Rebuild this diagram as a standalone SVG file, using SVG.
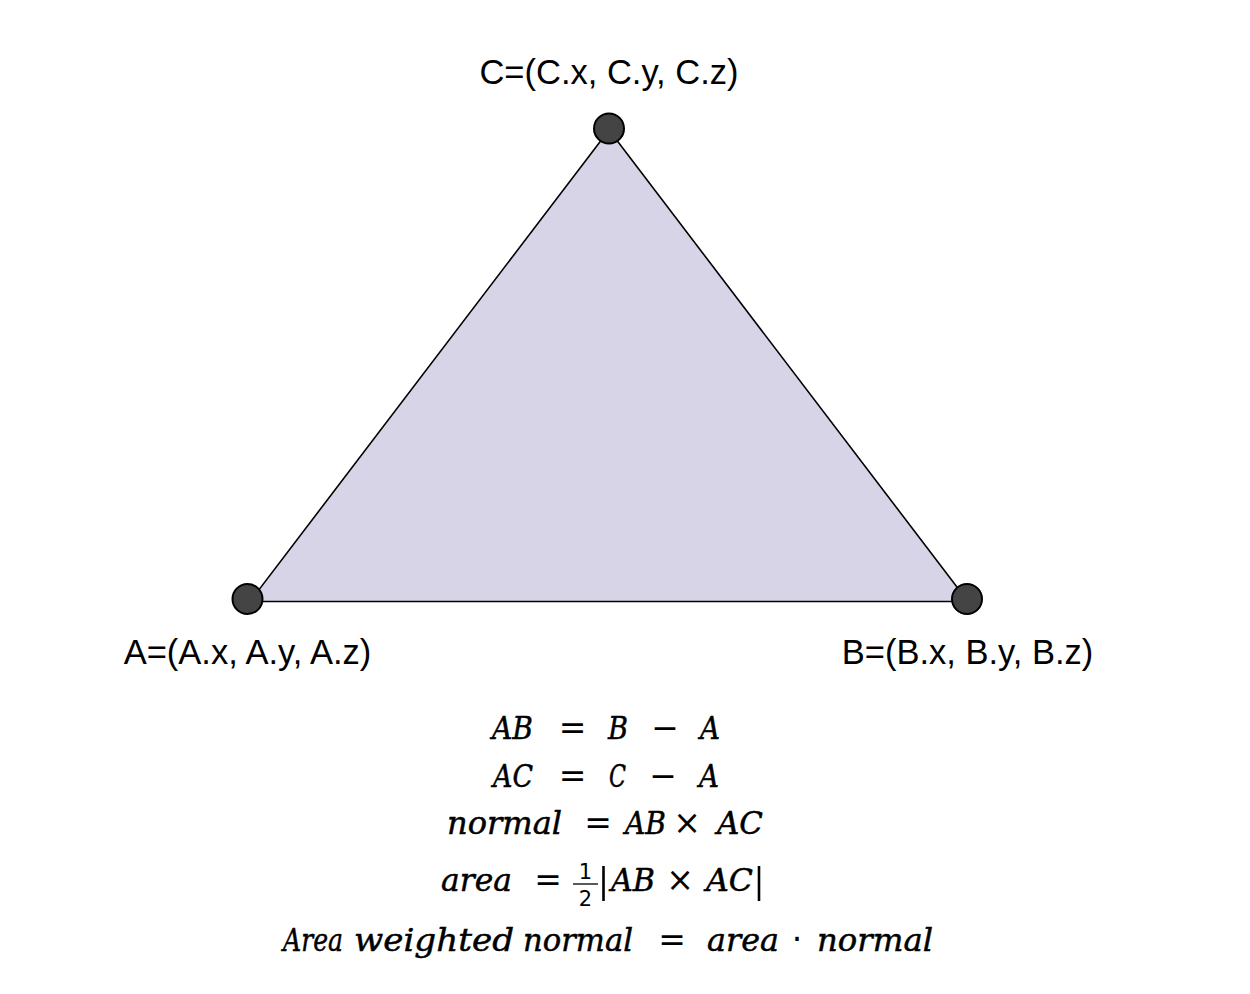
<svg xmlns="http://www.w3.org/2000/svg" width="1250" height="994" viewBox="0 0 1250 994">
<style>
.lbl{font-family:"Liberation Sans",Arial,sans-serif;font-size:34.5px;fill:#000;text-anchor:middle}
.m{font-family:"DejaVu Serif",serif;font-style:italic;font-size:32px;fill:#000;stroke:#000;stroke-width:0.5}
.op{font-family:"DejaVu Sans",sans-serif;font-size:33px;fill:#000;text-anchor:middle}
.fr{font-family:"DejaVu Sans",sans-serif;font-size:21px;fill:#000;text-anchor:middle}
.pt{fill:#444444;stroke:#000;stroke-width:2}
</style>
<rect width="1250" height="994" fill="#ffffff"/>
<g id="connectors">
<polygon points="250,601.5 609,130 968,601.5" fill="#d8d4e7" stroke="#000" stroke-width="1.6" stroke-linejoin="round"/>
</g>
<g id="C"><circle class="pt" cx="609" cy="128.5" r="15"/><text class="lbl" x="609" y="84">C=(C.x, C.y, C.z)</text></g>
<g id="A"><circle class="pt" cx="247.5" cy="599" r="15"/><text class="lbl" x="247.5" y="664">A=(A.x, A.y, A.z)</text></g>
<g id="B"><circle class="pt" cx="967" cy="599" r="15"/><text class="lbl" x="967.5" y="664">B=(B.x, B.y, B.z)</text></g>
<g id="equations">
<text class="m" x="492" y="739" textLength="41" lengthAdjust="spacingAndGlyphs">AB</text>
<text class="op" x="572.5" y="739">=</text>
<text class="m" x="608" y="739" textLength="20" lengthAdjust="spacingAndGlyphs">B</text>
<text class="op" x="665" y="739">−</text>
<text class="m" x="700" y="739" textLength="20" lengthAdjust="spacingAndGlyphs">A</text>

<text class="m" x="493" y="787" textLength="40" lengthAdjust="spacingAndGlyphs">AC</text>
<text class="op" x="572.5" y="787">=</text>
<text class="m" x="609" y="787" textLength="17" lengthAdjust="spacingAndGlyphs">C</text>
<text class="op" x="663" y="787">−</text>
<text class="m" x="699" y="787" textLength="20" lengthAdjust="spacingAndGlyphs">A</text>

<text class="m" x="447" y="834" textLength="115" lengthAdjust="spacingAndGlyphs">normal</text>
<text class="op" x="598" y="834">=</text>
<text class="m" x="625" y="834" textLength="41" lengthAdjust="spacingAndGlyphs">AB</text>
<text class="op" x="687" y="834">×</text>
<text class="m" x="717" y="834" textLength="46" lengthAdjust="spacingAndGlyphs">AC</text>

<text class="m" x="441" y="891" textLength="71" lengthAdjust="spacingAndGlyphs">area</text>
<text class="op" x="548" y="891">=</text>
<text class="fr" x="585.5" y="879">1</text>
<line x1="573" y1="884" x2="598" y2="884" stroke="#000" stroke-width="1.3"/>
<text class="fr" x="585.5" y="906">2</text>
<line x1="603.5" y1="866" x2="603.5" y2="901" stroke="#000" stroke-width="2.6"/>
<text class="m" x="611" y="891" textLength="44" lengthAdjust="spacingAndGlyphs">AB</text>
<text class="op" x="680" y="891">×</text>
<text class="m" x="706" y="891" textLength="47" lengthAdjust="spacingAndGlyphs">AC</text>
<line x1="759" y1="866" x2="759" y2="901" stroke="#000" stroke-width="2.6"/>

<text class="m" x="283" y="951" textLength="60" lengthAdjust="spacingAndGlyphs">Area</text>
<text class="m" x="354" y="951" textLength="160" lengthAdjust="spacingAndGlyphs">weighted</text>
<text class="m" x="523" y="951" textLength="110" lengthAdjust="spacingAndGlyphs">normal</text>
<text class="op" x="672" y="951">=</text>
<text class="m" x="707" y="951" textLength="72" lengthAdjust="spacingAndGlyphs">area</text>
<text class="op" x="797" y="951">·</text>
<text class="m" x="817" y="951" textLength="116" lengthAdjust="spacingAndGlyphs">normal</text>
</g>
</svg>
